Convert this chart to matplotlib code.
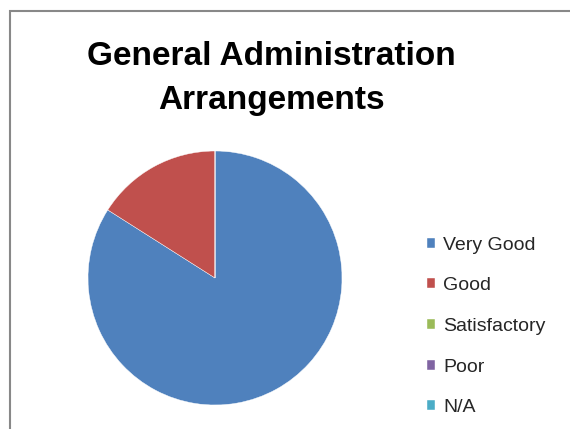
import matplotlib
matplotlib.use("Agg")
import matplotlib.pyplot as plt
from matplotlib.patches import Rectangle

categories = ["Very Good", "Good", "Satisfactory", "Poor", "N/A"]
values = [84, 16, 0, 0, 0]
colors = ["#4F81BD", "#C0504D", "#9BBB59", "#8064A2", "#4BACC6"]
title = "General Administration\nArrangements"

plt.rcParams["font.family"] = ["Liberation Sans", "DejaVu Sans"]

W, H = 570, 429
fig = plt.figure(figsize=(W / 100, H / 100), dpi=100)

# chart area border (only left and top edges visible)
fig.add_artist(Rectangle((10 / W, -0.1), 1.2, (H - 11) / H + 0.1,
                         transform=fig.transFigure, fill=False,
                         edgecolor="#888888", linewidth=1.5))

fig.text(271 / W, 1 - 41 / H, title, ha="center", va="top",
         fontsize=24, fontweight="bold", linespacing=1.55)

# pie centre (215, 278), radius 127 px
ax = fig.add_axes([(215 - 127) / W, 1 - (278 + 127) / H, 254 / W, 254 / H])
wedges, _ = ax.pie(values, colors=colors, startangle=90, counterclock=False,
                   radius=1, wedgeprops=dict(edgecolor="white", linewidth=0.3))
ax.set_xlim(-1, 1)
ax.set_ylim(-1, 1)
ax.set_aspect("equal")
ax.axis("off")

fig.legend(wedges, categories, loc="upper left",
           bbox_to_anchor=(427 / W, 1 - 236.5 / H),
           frameon=False, fontsize=14, borderpad=0, borderaxespad=0,
           handlelength=0.42, handleheight=0.42, handletextpad=0.4,
           labelspacing=1.22, labelcolor="#262626")

fig.savefig("out.png", dpi=100)
